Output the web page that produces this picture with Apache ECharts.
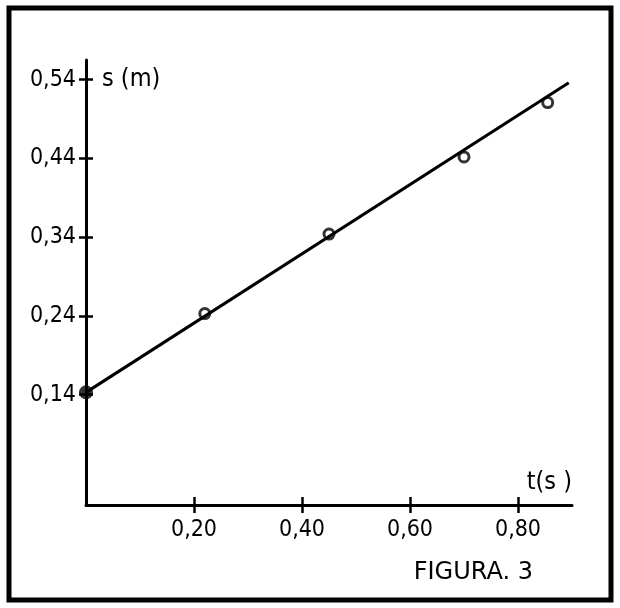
<!DOCTYPE html>
<html>
<head>
<meta charset="utf-8">
<script src="https://cdn.jsdelivr.net/npm/echarts@6/dist/echarts.min.js"></script>
<style>
  html, body { margin: 0; padding: 0; background: #fff; }
  #chart { width: 620px; height: 608px; }
</style>
</head>
<body>
<div id="chart"></div>
<script>
// tick positions
const yTicks = [0.14, 0.24, 0.34, 0.44, 0.54];
const xTicks = [0.2, 0.4, 0.6, 0.8];

// fitted straight line (ends)
const fitT = [0, 0.894];
const fitS = [0.143, 0.536];

// starting point (filled dot)
const startT = [0];
const startS = [0.143];

// measured points (open circles)
const obsT = [0.22, 0.45, 0.70, 0.855];
const obsS = [0.243, 0.344, 0.442, 0.511];

const FONT = '"DejaVu Sans Condensed", "DejaVu Sans", sans-serif';
const fmt = v => v.toFixed(2).replace('.', ',');
const zip = (a, b) => a.map((v, i) => [v, b[i]]);

let chart = echarts.init(document.getElementById('chart'));

// second axis only draws the inner half of the crossing ticks
const tickAxisBase = {
  min: 0,
  splitLine: { show: false },
  axisLine: { show: false },
  axisLabel: { show: false },
  axisTick: {
    show: true,
    inside: true,
    length: 7,
    lineStyle: { color: '#000', width: 2.5 }
  }
};

let option = {
  animation: false,
  backgroundColor: '#fff',
  title: {
    text: 'FIGURA. 3',
    right: 82,
    top: 556,
    textStyle: { fontFamily: '"DejaVu Sans", sans-serif', fontSize: 24, fontWeight: 'normal', color: '#000' }
  },
  graphic: [
    {
      type: 'rect',
      shape: { x: 9, y: 8, width: 602, height: 592 },
      style: { fill: 'none', stroke: '#000', lineWidth: 5 },
      silent: true
    }
  ],
  grid: { left: 86, right: 48, top: 60, bottom: 103 },
  xAxis: [
    {
      type: 'value',
      min: 0,
      max: 0.9,
      name: 't(s )',
      nameLocation: 'end',
      nameGap: 0,
      nameTextStyle: {
        fontFamily: FONT, fontSize: 25, color: '#000',
        align: 'right', verticalAlign: 'bottom', padding: [0, 0, 10, 0]
      },
      splitLine: { show: false },
      axisLine: { lineStyle: { color: '#000', width: 3 } },
      axisTick: {
        customValues: xTicks,
        length: 8,
        lineStyle: { color: '#000', width: 2.5 }
      },
      axisLabel: {
        customValues: xTicks,
        formatter: fmt,
        margin: 14,
        fontFamily: FONT,
        fontSize: 23,
        color: '#000'
      }
    },
    Object.assign({}, tickAxisBase, {
      type: 'value',
      max: 0.9,
      position: 'bottom',
      axisTick: Object.assign({}, tickAxisBase.axisTick, { customValues: xTicks, length: 8 })
    })
  ],
  yAxis: [
    {
      type: 'value',
      min: 0,
      max: 0.565,
      name: 's (m)',
      nameLocation: 'end',
      nameGap: -19,
      nameTextStyle: {
        fontFamily: FONT, fontSize: 25, color: '#000',
        align: 'left', verticalAlign: 'middle', padding: [0, 0, 0, 16]
      },
      position: 'left',
      splitLine: { show: false },
      axisLine: { lineStyle: { color: '#000', width: 3 } },
      axisTick: {
        customValues: yTicks,
        length: 7,
        lineStyle: { color: '#000', width: 2.5 }
      },
      axisLabel: {
        customValues: yTicks,
        formatter: fmt,
        margin: 10,
        fontFamily: FONT,
        fontSize: 23,
        color: '#000'
      }
    },
    Object.assign({}, tickAxisBase, {
      type: 'value',
      max: 0.565,
      position: 'left',
      axisTick: Object.assign({}, tickAxisBase.axisTick, { customValues: yTicks })
    })
  ],
  series: [
    {
      name: 'fit',
      type: 'line',
      data: zip(fitT, fitS),
      showSymbol: false,
      clip: false,
      lineStyle: { color: '#000', width: 3 }
    },
    {
      name: 'start',
      type: 'scatter',
      data: zip(startT, startS),
      symbol: 'circle',
      symbolSize: 14,
      clip: false,
      itemStyle: { color: '#000' }
    },
    {
      name: 'measured',
      type: 'scatter',
      data: zip(obsT, obsS),
      symbol: 'circle',
      symbolSize: 10,
      clip: false,
      itemStyle: { color: '#fff', borderColor: '#000', borderWidth: 3 }
    }
  ]
};

chart.setOption(option);
</script>
</body>
</html>
